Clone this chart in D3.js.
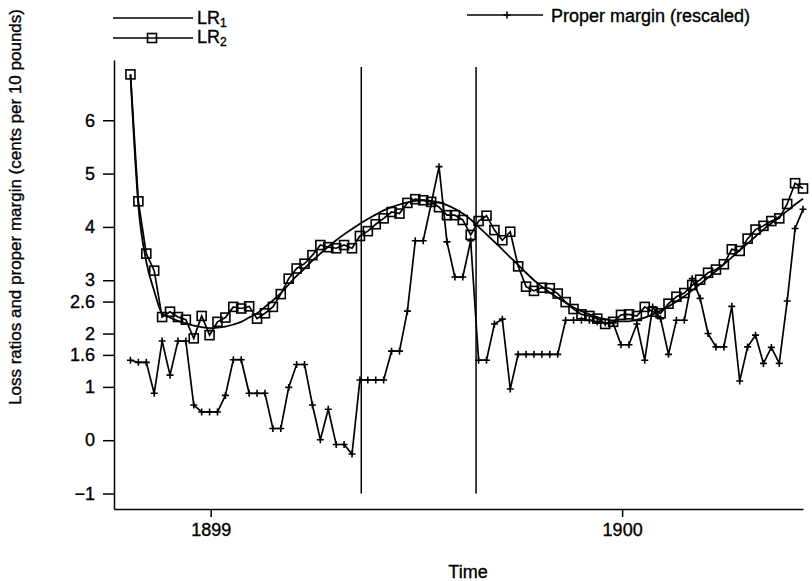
<!DOCTYPE html>
<html>
<head>
<meta charset="utf-8">
<script src="https://cdnjs.cloudflare.com/ajax/libs/d3/7.8.5/d3.min.js"></script>
<style>
body { margin: 0; background: #fff; }
svg text { font-family: "Liberation Sans", Arial, Helvetica, sans-serif; fill: #000; stroke: #000; stroke-width: 0.35px; }
</style>
</head>
<body>
<script>
// weekly series, first week late Oct 1898
const startYear = 1898.805;
const weekStep = 1 / 52;

const lr1 = [6.86, 4.4, 3.35, 2.8, 2.38, 2.3, 2.24, 2.19, 2.15, 2.12,
    2.1, 2.11, 2.13, 2.17, 2.22, 2.3, 2.38, 2.5, 2.62, 2.76,
    2.92, 3.08, 3.22, 3.37, 3.5, 3.63, 3.75, 3.86, 3.96, 4.06,
    4.15, 4.23, 4.31, 4.37, 4.42, 4.46, 4.49, 4.5, 4.49, 4.46,
    4.41, 4.34, 4.25, 4.14, 4.0, 3.86, 3.72, 3.58, 3.43, 3.29,
    3.14, 3.0, 2.88, 2.77, 2.67, 2.58, 2.49, 2.42, 2.36, 2.31,
    2.27, 2.24, 2.23, 2.23, 2.26, 2.3, 2.36, 2.43, 2.51, 2.6,
    2.7, 2.81, 2.93, 3.05, 3.17, 3.3, 3.43, 3.56, 3.69, 3.82,
    3.95, 4.07, 4.19, 4.3, 4.42, 4.53];

const lr2 = [6.86, 4.48, 3.5, 3.18, 2.31, 2.41, 2.31, 2.26, 1.91, 2.33,
    1.97, 2.22, 2.3, 2.5, 2.47, 2.51, 2.28, 2.38, 2.5, 2.74,
    3.03, 3.22, 3.31, 3.47, 3.66, 3.62, 3.6, 3.66, 3.6, 3.83,
    3.92, 4.05, 4.16, 4.28, 4.25, 4.45, 4.52, 4.5, 4.47, 4.37,
    4.22, 4.22, 4.13, 3.85, 4.11, 4.21, 3.94, 3.75, 3.91, 3.26,
    2.88, 2.8, 2.86, 2.85, 2.75, 2.59, 2.46, 2.36, 2.33, 2.28,
    2.18, 2.22, 2.35, 2.36, 2.33, 2.5, 2.41, 2.38, 2.56, 2.69,
    2.76, 2.91, 3.01, 3.14, 3.2, 3.3, 3.58, 3.55, 3.78, 3.95,
    4.02, 4.11, 4.16, 4.43, 4.82, 4.72];

const properMargin = [1.5, 1.46, 1.46, 0.88, 1.86, 1.22, 1.86, 1.86, 0.66, 0.53,
    0.53, 0.53, 0.84, 1.51, 1.51, 0.88, 0.88, 0.88, 0.22, 0.22,
    0.99, 1.42, 1.42, 0.66, 0.01, 0.58, -0.08, -0.08, -0.26, 1.13,
    1.13, 1.13, 1.13, 1.67, 1.67, 2.42, 3.74, 3.74, 4.43, 5.13,
    3.72, 3.06, 3.06, 3.74, 1.5, 1.5, 2.18, 2.27, 0.96, 1.61,
    1.61, 1.61, 1.61, 1.61, 1.61, 2.25, 2.25, 2.25, 2.25, 2.22,
    2.2, 2.2, 1.79, 1.79, 2.18, 1.5, 2.5, 2.28, 1.61, 2.25,
    2.25, 3.03, 2.66, 2.0, 1.75, 1.75, 2.51, 1.11, 1.75, 1.97,
    1.44, 1.74, 1.44, 2.61, 3.97, 4.33];

const yTicks = [-1, 0, 1, 1.6, 2, 2.6, 3, 4, 5, 6];
const xTicks = [1899, 1900];
const breaks = [1899.366, 1899.645];

const width = 812;
const height = 581;

const times = lr2.map((d, i) => startYear + i * weekStep);

const x = d3.scaleLinear()
    .domain([1898.765, times[times.length - 1]])
    .range([114, 803]);

const y = d3.scaleLinear()
    .domain([-1.29, 7.13])
    .range([509, 60]);

const svg = d3.select('body').append('svg')
    .attr('width', width)
    .attr('height', height);

// axes
svg.append('g')
    .attr('transform', `translate(0, ${y.range()[0]})`)
    .call(d3.axisBottom(x).tickValues(xTicks).tickFormat(d3.format('d'))
        .tickSize(8).tickPadding(6).tickSizeOuter(0));

svg.append('g')
    .attr('transform', `translate(${x.range()[0]}, 0)`)
    .call(d3.axisLeft(y).tickValues(yTicks)
        .tickFormat(d => d < 0 ? '\u2212' + Math.abs(d) : d)
        .tickSize(11).tickPadding(8).tickSizeOuter(0));

svg.selectAll('.domain, .tick line')
    .attr('stroke', '#000')
    .attr('stroke-width', 1.5);
svg.selectAll('.tick text')
    .style('font-size', '18px');

// regime breaks
svg.selectAll('.break')
    .data(breaks)
    .enter()
    .append('line')
    .attr('class', 'break')
    .attr('x1', d => x(d))
    .attr('x2', d => x(d))
    .attr('y1', y(-1))
    .attr('y2', y(7))
    .attr('stroke', '#000')
    .attr('stroke-width', 1.5);

const line = d3.line()
    .x((d, i) => x(times[i]))
    .y(d => y(d));

svg.append('path')
    .datum(lr1)
    .attr('d', line.curve(d3.curveMonotoneX))
    .attr('fill', 'none')
    .attr('stroke', '#000')
    .attr('stroke-width', 1.8);

line.curve(d3.curveLinear);

svg.append('path')
    .datum(properMargin)
    .attr('d', line)
    .attr('fill', 'none')
    .attr('stroke', '#000')
    .attr('stroke-width', 1.7);

svg.append('path')
    .datum(lr2)
    .attr('d', line)
    .attr('fill', 'none')
    .attr('stroke', '#000')
    .attr('stroke-width', 1.7);

const plusPath = 'M-3.5,0H3.5M0,-3.5V3.5';

svg.append('g').selectAll('path')
    .data(properMargin)
    .enter()
    .append('path')
    .attr('d', plusPath)
    .attr('transform', (d, i) => `translate(${x(times[i])}, ${y(d)})`)
    .attr('stroke', '#000')
    .attr('stroke-width', 1.6);

svg.append('g').selectAll('rect')
    .data(lr2)
    .enter()
    .append('rect')
    .attr('x', (d, i) => x(times[i]) - 4.5)
    .attr('y', d => y(d) - 4.5)
    .attr('width', 9)
    .attr('height', 9)
    .attr('fill', 'none')
    .attr('stroke', '#000')
    .attr('stroke-width', 1.6);

// legend
const legend = svg.append('g');

legend.append('line')
    .attr('x1', 113).attr('x2', 193).attr('y1', 18).attr('y2', 18)
    .attr('stroke', '#000').attr('stroke-width', 1.6);
const t1 = legend.append('text').attr('x', 197).attr('y', 24).style('font-size', '18px');
t1.append('tspan').text('LR');
t1.append('tspan').text('1').attr('dy', 3).style('font-size', '12px');

legend.append('line')
    .attr('x1', 113).attr('x2', 193).attr('y1', 38).attr('y2', 38)
    .attr('stroke', '#000').attr('stroke-width', 1.6);
legend.append('rect')
    .attr('x', 147.5).attr('y', 33.5).attr('width', 9).attr('height', 9)
    .attr('fill', 'none').attr('stroke', '#000').attr('stroke-width', 1.6);
const t2 = legend.append('text').attr('x', 197).attr('y', 43).style('font-size', '18px');
t2.append('tspan').text('LR');
t2.append('tspan').text('2').attr('dy', 3).style('font-size', '12px');

legend.append('line')
    .attr('x1', 467).attr('x2', 543).attr('y1', 15).attr('y2', 15)
    .attr('stroke', '#000').attr('stroke-width', 1.6);
legend.append('path')
    .attr('d', plusPath)
    .attr('transform', 'translate(507, 15)')
    .attr('stroke', '#000').attr('stroke-width', 1.6);
legend.append('text')
    .text('Proper margin (rescaled)')
    .attr('x', 551)
    .attr('y', 22)
    .style('font-size', '18px');

// axis titles
svg.append('text')
    .text('Time')
    .attr('x', 468)
    .attr('y', 578)
    .attr('text-anchor', 'middle')
    .style('font-size', '18px');

svg.append('text')
    .text('Loss ratios and proper margin (cents per 10 pounds)')
    .attr('transform', 'translate(21, 207) rotate(-90)')
    .attr('text-anchor', 'middle')
    .style('font-size', '17px');
</script>
</body>
</html>
